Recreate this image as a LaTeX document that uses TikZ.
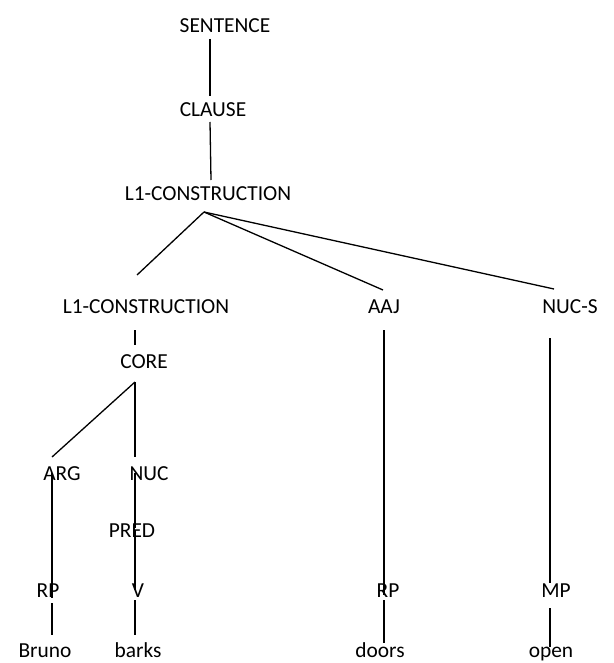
\documentclass[tikz,border=0pt]{standalone}
\usepackage{fontspec}
\setmainfont{Carlito}
\begin{document}
\begin{tikzpicture}[x=1pt,y=-1pt,
  lab/.style={anchor=base,inner sep=0pt,font=\fontsize{21.4}{24}\selectfont},
  edge/.style={line width=1.3pt,black}]
\useasboundingbox (0,0) rectangle (613,663);
% nodes
\node[lab] (sent) at (225,33) {SENTENCE};
\node[lab] (clause) at (213,117) {CLAUSE};
\node[lab] (lone) at (208,200) {L1-CONSTRUCTION};
\node[lab] (ltwo) at (146,313) {L1-CONSTRUCTION};
\node[lab] (aaj) at (384,313) {AAJ};
\node[lab] (nucs) at (570,313) {NUC-S};
\node[lab] (core) at (144,368) {CORE};
\node[lab] (arg) at (62,480) {ARG};
\node[lab] (nuc) at (149,480) {NUC};
\node[lab] (pred) at (132,537) {PRED};
\node[lab] (rpa) at (48,597) {RP};
\node[lab] (v) at (138,597) {V};
\node[lab] (rpb) at (388,597) {RP};
\node[lab] (mp) at (556,597) {MP};
\node[lab] (bruno) at (45,657) {Bruno};
\node[lab] (barks) at (138,657) {barks};
\node[lab] (doors) at (380,657) {doors};
\node[lab] (open) at (551,657) {open};
% connectors
\draw[edge] ([shift={(-15,6)}]sent.base) -- ([shift={(-3,-21)}]clause.base);
\draw[edge] ([shift={(-3,5)}]clause.base) -- ([shift={(3,-20)}]lone.base);
\draw[edge] ([shift={(-4,12)}]lone.base) -- ([shift={(-9,-38)}]ltwo.base);
\draw[edge] ([shift={(-4,12)}]lone.base) -- ([shift={(-1,-23)}]aaj.base);
\draw[edge] ([shift={(-4,12)}]lone.base) -- ([shift={(-16,-24)}]nucs.base);
\draw[edge] ([shift={(-11,17)}]ltwo.base) -- ([shift={(-9,-23)}]core.base);
\draw[edge] ([shift={(-9,14)}]core.base) -- ([shift={(-10,-23)}]arg.base);
\draw[edge] ([shift={(-9,14)}]core.base) -- ([shift={(-14,-23)}]nuc.base);
\draw[edge] ([shift={(-10,-7)}]arg.base) -- ([shift={(4,1)}]rpa.base);
\draw[edge] ([shift={(4,6)}]rpa.base) -- ([shift={(7,-22)}]bruno.base);
\draw[edge] ([shift={(-14,-7)}]nuc.base) -- ([shift={(3,-9)}]pred.base);
\draw[edge] ([shift={(3,-7)}]pred.base) -- ([shift={(-3,-7)}]v.base);
\draw[edge] ([shift={(-3,3)}]v.base) -- ([shift={(-3,-22)}]barks.base);
\draw[edge] ([shift={(0,17)}]aaj.base) -- ([shift={(-4,-2)}]rpb.base);
\draw[edge] ([shift={(-4,3)}]rpb.base) -- ([shift={(4,-14)}]doors.base);
\draw[edge] ([shift={(-20,25)}]nucs.base) -- ([shift={(-6,-14)}]mp.base);
\draw[edge] ([shift={(-6,11)}]mp.base) -- ([shift={(-1,-10)}]open.base);
\end{tikzpicture}
\end{document}
